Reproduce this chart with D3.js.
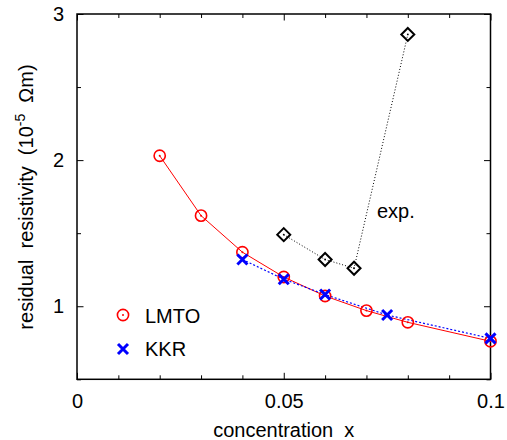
<!DOCTYPE html>
<html>
<head>
<meta charset="utf-8">
<script src="https://cdn.jsdelivr.net/npm/d3@7"></script>
<style>
	body { margin: 0; background: #fff; }
	text { font-family: "Liberation Sans", Arial, Helvetica, sans-serif; white-space: pre; }
</style>
</head>
<body>
<svg id="chart" width="507" height="440"></svg>
<script>
var lmtoX = [0.02, 0.03, 0.04, 0.05, 0.06, 0.07, 0.08, 0.10];
var lmtoY = [2.03, 1.62, 1.37, 1.20, 1.07, 0.97, 0.89, 0.76];

var kkrX = [0.04, 0.05, 0.06, 0.075, 0.10];
var kkrY = [1.32, 1.185, 1.08, 0.94, 0.78];

var expX = [0.05, 0.06, 0.067, 0.08];
var expY = [1.49, 1.32, 1.26, 2.86];

var xMajor = [0, 0.05, 0.1];
var xMajorLabels = ["0", "0.05", "0.1"];
var xMinor = [0.01, 0.02, 0.03, 0.04, 0.06, 0.07, 0.08, 0.09];
var yMajor = [1, 2, 3];
var yMajorLabels = ["1", "2", "3"];
var yMinor = [0.5, 1.5, 2.5];

var margin = { top: 14, right: 16.5, bottom: 60.7, left: 77 };
var W = 507, H = 440;
var width = W - margin.left - margin.right;
var height = H - margin.top - margin.bottom;

function zip(xs, ys) {
	var out = [];
	for (var i = 0; i < xs.length; i++) out.push([xs[i], ys[i]]);
	return out;
}

var svg = d3.select("#chart");
var g = svg.append("g").attr("transform", "translate(" + margin.left + "," + margin.top + ")");

var x = d3.scaleLinear().domain([0, 0.1]).range([0, width]);
var y = d3.scaleLinear().domain([0.5, 3]).range([height, 0]);

// ticks point inward on all four sides
function styleAxis(sel) {
	sel.select(".domain").remove();
	sel.selectAll("line").attr("stroke", "#000").attr("stroke-width", 1);
	sel.selectAll("text").attr("font-size", 20).attr("fill", "#000")
		.attr("font-family", "'Liberation Sans', Arial, sans-serif");
}

g.append("g").attr("transform", "translate(0," + height + ")")
	.call(d3.axisBottom(x).tickValues(xMajor).tickSize(-6.5).tickPadding(14.5)
		.tickFormat(function (d, i) { return xMajorLabels[i]; }))
	.call(styleAxis);
g.append("g").attr("transform", "translate(0," + height + ")")
	.call(d3.axisBottom(x).tickValues(xMinor).tickSize(-4).tickFormat(""))
	.call(styleAxis);
g.append("g")
	.call(d3.axisTop(x).tickValues(xMajor).tickSize(-6.5).tickFormat(""))
	.call(styleAxis);
g.append("g")
	.call(d3.axisTop(x).tickValues(xMinor).tickSize(-4).tickFormat(""))
	.call(styleAxis);

g.append("g")
	.call(d3.axisLeft(y).tickValues(yMajor).tickSize(-6.5).tickPadding(13)
		.tickFormat(function (d, i) { return yMajorLabels[i]; }))
	.call(styleAxis);
g.append("g")
	.call(d3.axisLeft(y).tickValues(yMinor).tickSize(-4).tickFormat(""))
	.call(styleAxis);
g.append("g").attr("transform", "translate(" + width + ",0)")
	.call(d3.axisRight(y).tickValues(yMajor).tickSize(-6.5).tickFormat(""))
	.call(styleAxis);
g.append("g").attr("transform", "translate(" + width + ",0)")
	.call(d3.axisRight(y).tickValues(yMinor).tickSize(-4).tickFormat(""))
	.call(styleAxis);

g.append("rect")
	.attr("width", width).attr("height", height)
	.attr("fill", "none").attr("stroke", "#000").attr("stroke-width", 1.5);

var line = d3.line()
	.x(function (d) { return x(d[0]); })
	.y(function (d) { return y(d[1]); });

g.append("path").datum(zip(expX, expY)).attr("d", line)
	.attr("fill", "none").attr("stroke", "#000").attr("stroke-width", 1)
	.attr("stroke-dasharray", "1,2");
g.append("path").datum(zip(lmtoX, lmtoY)).attr("d", line)
	.attr("fill", "none").attr("stroke", "#f00").attr("stroke-width", 1);
g.append("path").datum(zip(kkrX, kkrY)).attr("d", line)
	.attr("fill", "none").attr("stroke", "#00f").attr("stroke-width", 1.2)
	.attr("stroke-dasharray", "2,2");

function drawCircle(sel) {
	sel.append("circle").attr("r", 5.6)
		.attr("fill", "none").attr("stroke", "#f00").attr("stroke-width", 1.6);
	sel.append("circle").attr("r", 1).attr("fill", "#f00");
}
function drawCross(sel) {
	sel.append("path").attr("d", "M-5,-5L5,5M-5,5L5,-5")
		.attr("stroke", "#00f").attr("stroke-width", 3).attr("fill", "none");
}
function drawDiamond(sel) {
	sel.append("path").attr("d", "M0,-6.5L6.5,0L0,6.5L-6.5,0Z")
		.attr("stroke", "#000").attr("stroke-width", 2).attr("fill", "none");
	sel.append("circle").attr("r", 0.9).attr("fill", "#000");
}

g.selectAll(".exp-pt").data(zip(expX, expY)).enter().append("g")
	.attr("class", "exp-pt")
	.attr("transform", function (d) { return "translate(" + x(d[0]) + "," + y(d[1]) + ")"; })
	.call(drawDiamond);
g.selectAll(".lmto-pt").data(zip(lmtoX, lmtoY)).enter().append("g")
	.attr("class", "lmto-pt")
	.attr("transform", function (d) { return "translate(" + x(d[0]) + "," + y(d[1]) + ")"; })
	.call(drawCircle);
g.selectAll(".kkr-pt").data(zip(kkrX, kkrY)).enter().append("g")
	.attr("class", "kkr-pt")
	.attr("transform", function (d) { return "translate(" + x(d[0]) + "," + y(d[1]) + ")"; })
	.call(drawCross);

g.append("text").attr("x", 300).attr("y", 204)
	.attr("font-size", 20).text("exp.");

// legend
var leg = g.append("g").attr("transform", "translate(46,301)");
leg.append("g").call(drawCircle);
leg.append("text").attr("x", 22).attr("y", 7.5).attr("font-size", 20).text("LMTO");
leg.append("g").attr("transform", "translate(0,34)").call(drawCross);
leg.append("text").attr("x", 22).attr("y", 41).attr("font-size", 20).text("KKR");

// axis titles
svg.append("text")
	.attr("x", margin.left + width / 2).attr("y", 437)
	.attr("text-anchor", "middle").attr("font-size", 20)
	.text("concentration  x");

var yt = svg.append("text")
	.attr("transform", "translate(33,197) rotate(-90)")
	.attr("text-anchor", "middle").attr("font-size", 20);
yt.append("tspan").text("residual  resistivity  (10");
yt.append("tspan").attr("dy", -8).attr("font-size", 14).text("-5");
yt.append("tspan").attr("dy", 8).text("  \u03a9m)");
</script>
</body>
</html>
